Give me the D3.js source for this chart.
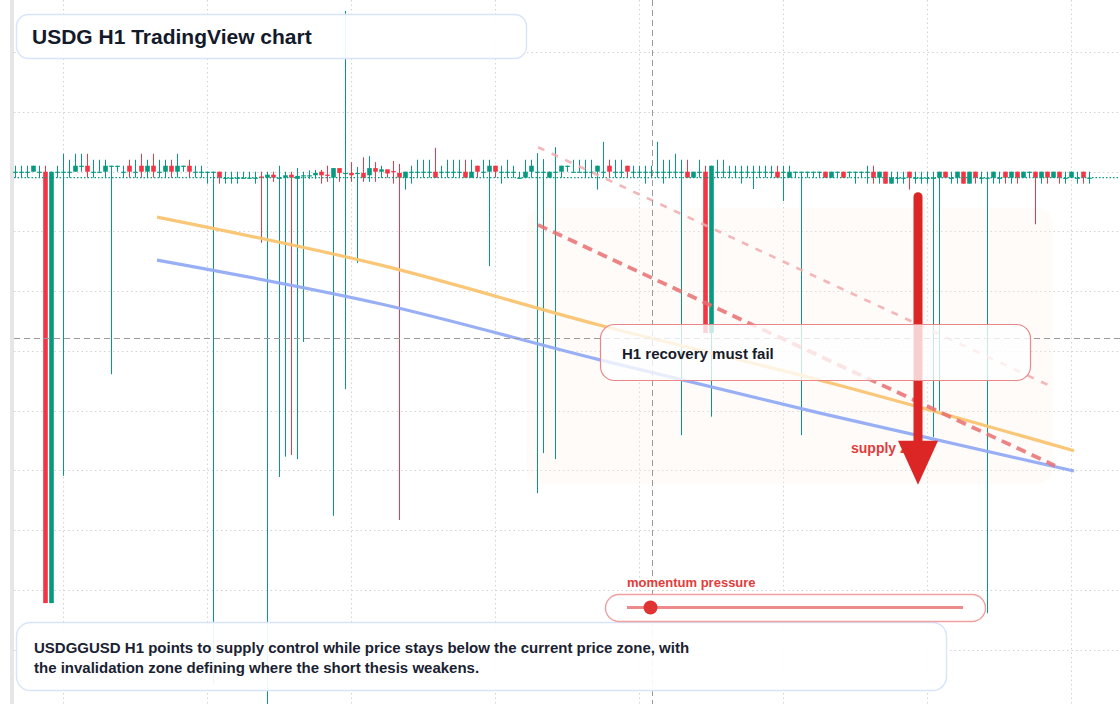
<!DOCTYPE html>
<html><head><meta charset="utf-8">
<script src="https://cdn.jsdelivr.net/npm/d3@7"></script>
<style>
html,body{margin:0;padding:0;background:#fff;}
svg{display:block;font-family:"Liberation Sans",Arial,Helvetica,sans-serif;}
</style></head><body>
<svg id="chart" width="1120" height="704"></svg>
<script>
// ---- data: USDG H1 bars (price in USD) ----
const open = [
1.0000,1.0000,1.0000,1.0000,1.0000,1.0000,0.99278,1.0000,1.0000,1.0000,
1.0000,1.0001,1.0001,1.0000,1.0000,1.0000,1.0001,1.0001,1.0000,1.0001,
1.0000,1.0001,1.0000,1.0001,1.0000,1.0000,1.0001,1.0000,1.0001,1.0001,
1.0000,1.0000,1.0000,1.0000,1.0000,0.9999,0.9999,0.9999,0.9999,0.9999,
0.9999,0.99992,0.9999,0.99995,0.9999,0.9999,0.99995,0.99988,0.99994,0.99994,
0.99994,1.0000,0.99995,0.9999,1.00006,0.99997,0.99998,0.99998,0.99998,0.99994,
1.00006,1.0000,1.00004,1.00001,0.99998,0.9999,1.0000,1.0000,1.0000,1.0000,
1.0000,1.0000,1.0000,1.0000,1.0000,1.0000,0.9999,1.0001,1.0000,1.0000,
1.0001,1.0000,1.0000,1.0000,0.9999,0.9999,1.0000,1.0000,1.0000,0.9999,
1.0000,1.0000,1.0001,1.0000,1.0000,1.0000,1.0000,1.0000,1.0000,1.0001,
1.0000,1.0000,1.0001,1.0000,1.0000,1.0000,1.0000,1.0000,1.0000,1.0000,
1.0000,1.0000,1.0000,0.9999,1.0000,1.0000,0.9973,1.0000,1.0000,1.0000,
1.0000,1.0000,1.0000,1.0000,1.0000,1.0000,1.0000,1.0000,1.0000,0.9999,
1.0000,1.0000,1.0000,1.0000,1.0000,1.0000,0.9999,1.0000,1.0000,1.0000,
1.0000,1.0000,1.0000,1.0000,0.9999,1.0000,0.9998,0.9999,0.9999,1.0000,
0.9999,0.9999,0.9999,0.9999,0.9999,1.0000,0.9999,0.9999,1.0000,0.9998,
1.0000,0.9999,0.9999,0.9999,0.9999,1.0000,0.9999,1.0000,0.9999,1.0000,
1.0000,0.9999,1.0000,0.9999,1.0000,0.9999,0.9999,0.9999,1.0000,0.9999];
const high = [
1.0001,1.0001,1.0001,1.0001,1.0001,1.0001,1.0000,1.0001,1.0003,1.0002,
1.0003,1.0003,1.0003,1.0002,1.0002,1.0002,1.0001,1.0001,1.0001,1.0002,
1.0002,1.0003,1.0002,1.0003,1.0002,1.0002,1.0002,1.0003,1.0001,1.0002,
1.0001,1.0001,1.0000,1.0000,1.0000,1.0000,1.0000,1.0000,1.0000,1.0000,
1.0000,1.0000,1.0000,1.0000,1.0001,1.0000,1.0000,1.00006,1.0000,1.00002,
1.00003,1.00003,1.0001,1.00006,1.00006,1.00269,1.00016,1.00008,1.00024,1.00026,
1.00016,1.0001,1.00003,1.00018,1.00013,1.0000,1.0001,1.0002,1.0002,1.0002,
1.0004,1.0001,1.0002,1.0002,1.0002,1.0002,1.0002,1.0001,1.0002,1.0002,
1.0001,1.0001,1.0002,1.0001,1.0000,1.0002,1.0002,1.00031,1.00021,1.0000,
1.00041,1.0001,1.0001,1.0002,1.0002,1.0002,1.0002,1.0001,1.0005,1.0002,
1.0002,1.0002,1.0001,1.0001,1.0001,1.0001,1.0001,1.0005,1.0002,1.0002,
1.0003,1.0002,1.0002,1.0000,1.0002,1.0001,1.0001,1.0002,1.0002,1.0001,
1.0001,1.0001,1.0001,1.0001,1.0001,1.0001,1.0001,1.0001,1.0001,1.0001,
1.0000,1.0000,1.0000,1.0000,1.0000,1.0000,1.0000,1.0000,1.0000,1.0000,
1.0000,1.0000,1.0001,1.0001,1.0000,1.0000,1.0000,1.0000,1.0000,1.0000,
1.0000,1.0000,1.0000,1.0000,1.0000,1.0000,1.0000,1.0000,1.0000,1.0000,
1.0000,1.0000,1.0000,1.0000,1.0000,1.0000,1.0000,1.0000,1.0000,1.0000,
1.0000,1.0000,1.0000,1.0000,1.0000,1.0000,1.0000,1.0000,1.0000,1.0000];
const low = [
0.9999,0.9999,0.9999,1.0000,0.9999,0.99278,0.99278,0.9999,0.99491,0.9999,
1.0000,1.0000,0.9999,0.9999,1.0000,0.9999,0.99661,1.0000,0.9999,0.9999,
0.9999,0.9999,0.9999,0.9999,0.9999,0.9999,0.9999,0.9999,1.0000,0.9999,
0.9999,0.9999,0.9998,0.99143,0.9998,0.9998,0.9998,0.9998,0.9999,0.9999,
0.9998,0.99881,0.99082,0.99983,0.99489,0.99523,0.99526,0.99519,0.99715,0.99988,
0.99988,0.9998,0.99983,0.99424,0.99983,0.99636,0.99983,0.99847,0.99983,0.99983,
0.99983,0.9999,0.9999,0.9998,0.99417,0.9997,0.9998,0.9999,0.9999,0.9999,
0.9999,0.9999,0.9999,0.9999,0.9999,0.9999,0.9999,0.9999,0.9999,0.99842,
0.9999,0.9998,0.9999,0.9999,0.9999,0.9999,0.9999,0.99462,0.99529,0.9999,
0.99519,0.9999,1.0000,1.0000,1.0000,0.9999,0.9999,0.9997,0.9999,0.9999,
0.9999,0.9999,0.9999,0.9999,0.9999,0.9998,0.9999,0.9999,0.9998,0.9999,
0.9999,0.99559,0.9999,0.9999,0.9999,0.9973,0.99590,0.9999,0.9999,0.9999,
0.9999,0.9998,0.9999,0.99971,0.9999,0.9999,0.9999,0.9999,0.99951,0.9999,
0.9999,0.99559,0.9999,0.9999,0.9999,0.9999,0.9999,0.9999,0.9999,0.9999,
0.9998,0.9999,0.9998,0.9998,0.9998,0.9998,0.9998,0.9998,0.9998,0.9997,
0.9998,0.9998,0.9998,0.99556,0.99600,0.9999,0.9998,0.9998,0.9998,0.9998,
0.9998,0.9998,0.99261,0.9998,0.9998,0.9998,0.9998,0.9998,0.9999,0.9999,
0.99912,0.9998,0.9998,0.9999,0.9998,0.9998,0.9999,0.9998,0.9998,0.9998];
const close = [
1.0000,1.0000,1.0000,1.0001,1.0000,0.99278,1.0000,1.0000,1.0000,1.0000,
1.0001,1.0001,1.0000,1.0000,1.0000,1.0001,1.0001,1.0001,1.0000,1.0000,
1.0000,1.0000,1.0001,1.0000,1.0000,1.0001,1.0000,1.0001,1.0001,1.0000,
1.0000,1.0000,1.0000,1.0000,0.9999,0.9999,0.9999,0.9999,0.9999,0.9999,
0.9999,0.9999,0.99995,0.9999,0.9999,0.99994,0.9999,0.99993,0.99994,0.99994,
0.99998,0.99994,0.99994,1.00006,0.99998,0.99998,0.99994,0.99998,0.9999,1.00006,
1.0000,1.00004,0.99997,1.0000,0.9999,1.0000,1.0000,1.0000,1.0000,1.0000,
0.9999,1.0000,1.0000,1.0000,1.0000,0.9999,1.0000,1.0000,1.0000,1.0001,
1.0000,1.0000,1.0000,1.0000,0.9999,1.0000,1.0001,1.0000,1.0000,1.0000,
1.0000,1.0001,1.0001,1.0000,1.0000,1.0000,1.0000,1.0001,1.0000,1.0000,
1.0000,1.0000,1.0000,1.0000,1.0000,1.0000,1.0000,1.0000,1.0000,1.0000,
1.0000,1.0000,0.9999,1.0000,1.0000,0.9973,1.0001,1.0000,1.0000,1.0000,
1.0000,1.0000,1.0000,1.0000,1.0000,1.0000,1.0000,0.9999,1.0000,1.0000,
1.0000,1.0000,1.0000,1.0000,1.0000,0.9999,1.0000,1.0000,0.9999,1.0000,
1.0000,1.0000,1.0000,0.9999,1.0000,0.9998,0.9999,0.9999,0.9999,0.9999,
0.9999,0.9999,0.9999,0.9999,1.0000,0.9999,0.9999,1.0000,0.9998,1.0000,
0.9999,0.9999,0.9999,1.0000,0.9999,0.9999,1.0000,0.9999,1.0000,1.0000,
0.9999,1.0000,0.9999,1.0000,0.9999,0.9999,1.0000,0.9999,0.9999,0.9999];
const bars = d3.range(open.length);              // hourly bar index
const dayStartBars = [8, 32, 56, 80, 104, 128, 152, 176];
const priceTicks = [1.002,1.001,1.000,0.999,0.998,0.997,0.996,0.995,0.994,0.993,0.992];
const lastPrice = 0.9999;
const crossBar = 106.17, crossPrice = 0.99722;
// overlay lines: [bar index, price]
const emaFast = [[23.67,0.99924],[60.83,0.99844],[97.5,0.99743],[134.17,0.99651],[176.5,0.99533]];
const emaSlow = [[23.67,0.99852],[60.83,0.99779],[97.5,0.99685],[134.17,0.99596],[176.5,0.99499]];
const channelMid = [[87.17,0.99911],[173.33,0.99508]];
const channelTop = [[87.17,1.00041],[172.83,0.99640]];
const zoneBars = [85.3, 173.0], zonePrices = [0.99939, 0.99477];
const arrowBar = 150.5, arrowPrices = [0.99958, 0.99476];
const title = "USDG H1 TradingView chart";
const noteText = "H1 recovery must fail";
const zoneLabel = "supply zone";
const meterLabel = "momentum pressure";
const meterValue = 0.07;
const summary = ["USDGGUSD H1 points to supply control while price stays below the current price zone, with",
                 "the invalidation zone defining where the short thesis weakens."];

// ---- drawing ----
const W = 1120, H = 704;
const svg = d3.select('#chart');
const x = d3.scaleLinear().domain([0, 179]).range([15, 1089]);
const y = d3.scaleLinear().domain([0.992, 1.002]).range([649.7, 52.2]);
const UP = '#089981', DN = '#f23645';

svg.append('rect').attr('width', W).attr('height', H).attr('fill', '#fff');
svg.append('rect').attr('x', 10).attr('y', 0).attr('width', 4).attr('height', H).attr('fill', '#e6e6e6');

const grid = svg.append('g').attr('stroke', '#d2d2d2').attr('stroke-width', 1).attr('stroke-dasharray', '1.5,3');
grid.selectAll('.hg').data(priceTicks).join('line')
  .attr('x1', 14).attr('x2', W).attr('y1', d => Math.round(y(d)) + 0.5).attr('y2', d => Math.round(y(d)) + 0.5);
grid.selectAll('.vg').data(dayStartBars).join('line')
  .attr('x1', d => x(d) + 0.5).attr('x2', d => x(d) + 0.5).attr('y1', 0).attr('y2', H);

// supply zone
svg.append('rect')
  .attr('x', x(zoneBars[0])).attr('y', y(zonePrices[0]))
  .attr('width', x(zoneBars[1]) - x(zoneBars[0])).attr('height', y(zonePrices[1]) - y(zonePrices[0]))
  .attr('rx', 16).attr('fill', '#fbf1e8').attr('opacity', 0.28);

// candles
const data = bars.map(i => ({i, o: open[i], h: high[i], l: low[i], c: close[i]}));
const cg = svg.append('g');
cg.selectAll('line').data(data).join('line')
  .attr('x1', d => x(d.i) + 0.5).attr('x2', d => x(d.i) + 0.5)
  .attr('y1', d => y(d.h)).attr('y2', d => y(d.l))
  .attr('stroke', d => d.c >= d.o ? UP : DN).attr('stroke-width', 1);
cg.selectAll('rect').data(data).join('rect')
  .attr('x', d => x(d.i) + 0.5 - 2.3).attr('width', 4.6)
  .attr('y', d => Math.min(y(d.o), y(d.c)))
  .attr('height', d => Math.max(1.2, Math.abs(y(d.o) - y(d.c))))
  .attr('fill', d => d.c >= d.o ? UP : DN);

// last price line
svg.append('line').attr('x1', 14).attr('x2', W).attr('y1', y(lastPrice)).attr('y2', y(lastPrice))
  .attr('stroke', UP).attr('stroke-width', 1.3).attr('stroke-dasharray', '1.5,2');

// overlay lines
const lineGen = d3.line().x(d => x(d[0])).y(d => y(d[1])).curve(d3.curveMonotoneX);
svg.append('path').attr('d', lineGen(emaFast)).attr('fill', 'none').attr('stroke', '#f9c470').attr('stroke-width', 3.2).attr('opacity', 0.95);
svg.append('path').attr('d', lineGen(emaSlow)).attr('fill', 'none').attr('stroke', '#92abf4').attr('stroke-width', 3.2).attr('opacity', 0.95);
svg.append('path').attr('d', lineGen(channelMid)).attr('fill', 'none').attr('stroke', '#e96d70').attr('stroke-width', 3.8).attr('stroke-dasharray', '10,6.5').attr('opacity', 0.85);
svg.append('path').attr('d', lineGen(channelTop)).attr('fill', 'none').attr('stroke', '#f2a9ab').attr('stroke-width', 2.6).attr('stroke-dasharray', '7,8').attr('opacity', 0.85);

// crosshair
const ch = svg.append('g').attr('stroke', '#9a9a9a').attr('stroke-width', 1).attr('stroke-dasharray', '6,4');
ch.append('line').attr('x1', Math.round(x(crossBar)) + 0.5).attr('x2', Math.round(x(crossBar)) + 0.5).attr('y1', 0).attr('y2', H);
ch.append('line').attr('x1', 14).attr('x2', W).attr('y1', Math.round(y(crossPrice)) + 0.5).attr('y2', Math.round(y(crossPrice)) + 0.5);

// arrow + zone label
const ax = x(arrowBar), ay0 = y(arrowPrices[0]), ay1 = y(arrowPrices[1]);
svg.append('line').attr('x1', ax).attr('x2', ax).attr('y1', ay0).attr('y2', ay1 - 40)
  .attr('stroke', '#dc2626').attr('stroke-width', 9).attr('stroke-linecap', 'round');
svg.append('text').attr('x', 851).attr('y', 453).attr('fill', '#e33b3b')
  .attr('font-size', 14).attr('font-weight', 700).text(zoneLabel);
svg.append('path').attr('d', `M${ax - 20},${ay1 - 44}L${ax + 20},${ay1 - 44}L${ax},${ay1}Z`).attr('fill', '#dc2626');

// note box
svg.append('rect').attr('x', 600.5).attr('y', 324.5).attr('width', 430).attr('height', 56).attr('rx', 14)
  .attr('fill', 'rgba(255,255,255,0.78)').attr('stroke', '#e8888a').attr('stroke-width', 1.2);
svg.append('text').attr('x', 622).attr('y', 359).attr('fill', '#161c2b').attr('font-size', 15).attr('font-weight', 700).text(noteText);

// title box
svg.append('rect').attr('x', 16.5).attr('y', 14.5).attr('width', 510).attr('height', 44).attr('rx', 12)
  .attr('fill', 'rgba(255,255,255,0.92)').attr('stroke', '#d7e4fa').attr('stroke-width', 1.4);
svg.append('text').attr('x', 32).attr('y', 43.5).attr('fill', '#131a2a').attr('font-size', 21).attr('font-weight', 700).text(title);

// bottom summary box
svg.append('rect').attr('x', 16.5).attr('y', 622.5).attr('width', 930).attr('height', 68).attr('rx', 14)
  .attr('fill', 'rgba(255,255,255,0.92)').attr('stroke', '#d7e4fa').attr('stroke-width', 1.4);
svg.selectAll('.sum').data(summary).join('text')
  .attr('x', 34).attr('y', (d, k) => 653 + k * 20).attr('fill', '#1a2232')
  .attr('font-size', 15).attr('font-weight', 700).text(d => d);

// momentum meter
svg.append('text').attr('x', 627).attr('y', 587).attr('fill', '#e33b3b').attr('font-size', 13).attr('font-weight', 700).text(meterLabel);
svg.append('rect').attr('x', 605.5).attr('y', 594.5).attr('width', 380).attr('height', 27).attr('rx', 13.5)
  .attr('fill', '#fff').attr('stroke', '#f0a0a0').attr('stroke-width', 1.4);
const m = d3.scaleLinear().domain([0, 1]).range([627, 963]);
svg.append('line').attr('x1', m(0)).attr('x2', m(1)).attr('y1', 607.5).attr('y2', 607.5)
  .attr('stroke', '#ee8a8a').attr('stroke-width', 3.2);
svg.append('circle').attr('cx', m(meterValue)).attr('cy', 607.5).attr('r', 7).attr('fill', '#e03434');
</script>
</body></html>
